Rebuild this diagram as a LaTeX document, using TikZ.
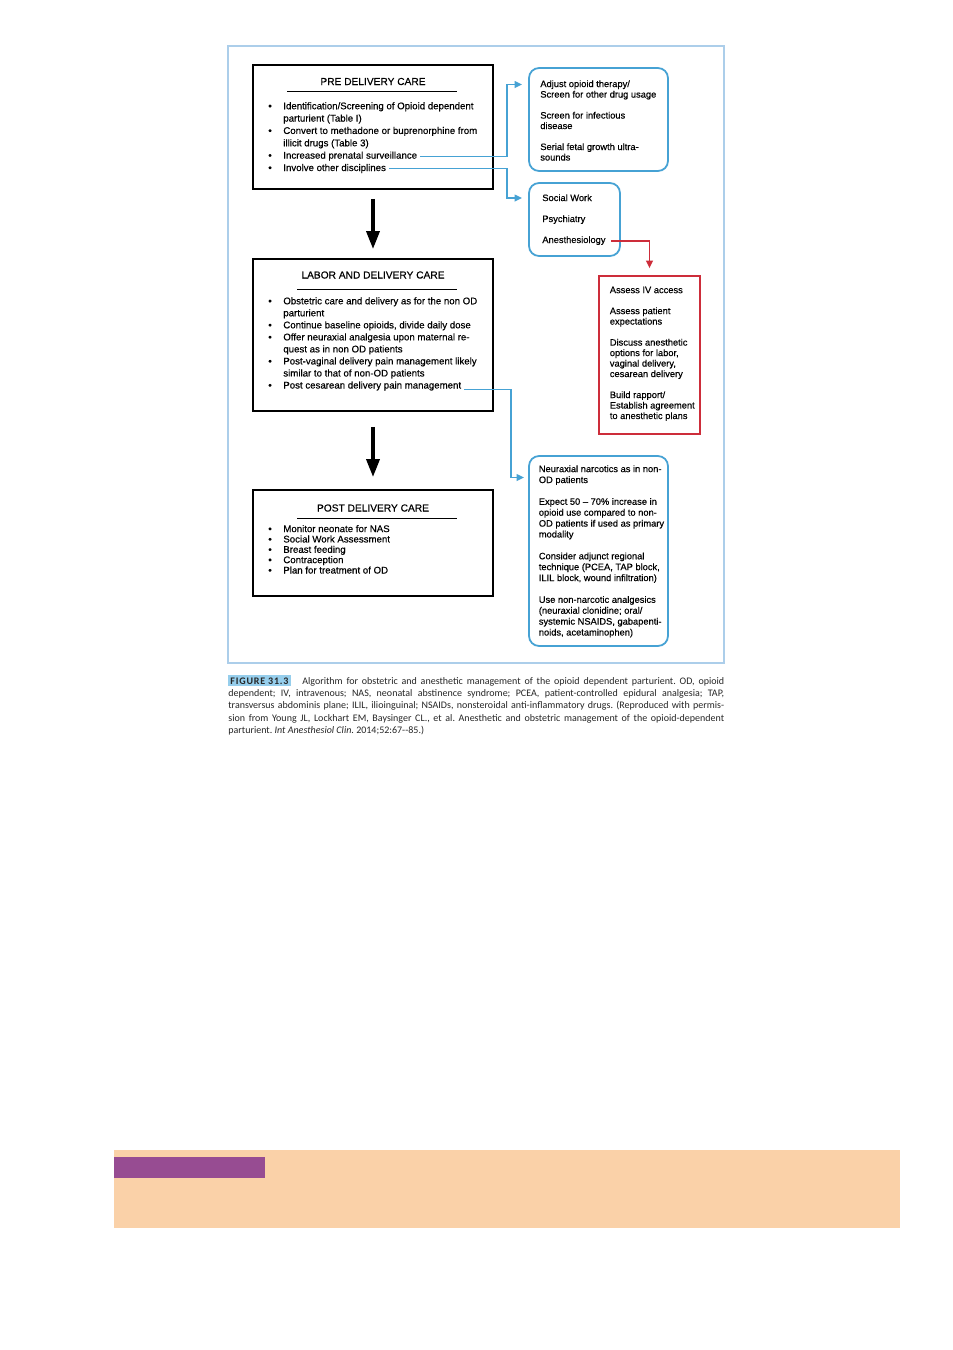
\documentclass[tikz,border=0pt]{standalone}
\usepackage{xcolor}
\usepackage{fontspec}
\setmainfont{Liberation Sans}[FakeBold=0.4]
\newfontfamily\capfont{Carlito}
\usepackage{tikz}
\usetikzlibrary{arrows.meta}

\definecolor{linkblue}{RGB}{70,162,212}
\definecolor{frameblue}{RGB}{172,206,234}
\definecolor{alertred}{RGB}{205,45,58}
\definecolor{tagblue}{RGB}{150,206,236}
\definecolor{peach}{RGB}{250,209,168}
\definecolor{plum}{RGB}{151,76,146}

\newcommand{\listbul}{\makebox[0.3cm][l]{\textbullet}}
\newcommand{\listind}{\hspace*{0.3cm}}

\begin{document}
\begin{tikzpicture}[x=0.02cm, y=-0.02cm,
    every node/.append style={text=black},
    carebox/.style={draw=black, line width=1.1pt, minimum width=4.8cm, inner sep=0},
    sidebox/.style={draw=linkblue, line width=1pt, rounded corners=0.2cm, inner sep=0},
    alertbox/.style={draw=alertred, line width=0.9pt, inner sep=0},
    boxtitle/.style={inner sep=0, font=\fontsize{5.8}{7}\selectfont},
    listtext/.style={anchor=base west, inner sep=0, align=left},
    sidetext/.style={anchor=base west, inner sep=0, align=left, font=\fontsize{5.3}{5.97}\selectfont},
    flow/.style={line width=2pt, -{Triangle[length=0.36cm, width=0.26cm]}},
    bluelink/.style={draw=linkblue, line width=1.1pt, -{Triangle[length=0.15cm, width=0.13cm]}},
    redlink/.style={draw=alertred, line width=1.1pt, -{Triangle[length=0.15cm, width=0.13cm]}}]
    % Page
    \fill[white] (0,0) rectangle (953,1350);
    \draw[frameblue, line width=0.6pt] (228,46) rectangle (724,663);
    % Care stages (list nodes sit on their last baseline)
    \node[carebox, minimum height=2.48cm] (pre) at (373,127) {};
    \node[carebox, minimum height=3.04cm] (labor) at (373,335) {};
    \node[carebox, minimum height=2.12cm] (post) at (373,543) {};
    \node[boxtitle] (pretitle) at (373,81.5) {PRE DELIVERY CARE};
    \node[boxtitle] (labortitle) at (373,275) {LABOR AND DELIVERY CARE};
    \node[boxtitle] (posttitle) at (373,508) {POST DELIVERY CARE};
    \draw[thin] (287,91.5) -- (457,91.5);
    \draw[thin] (297,289) -- (457,289);
    \draw[thin] (297,518) -- (457,518);
    \node[listtext, font=\fontsize{5.5}{7.03}\selectfont] (prelist) at (268,171) {%
        \listbul Identification/Screening of Opioid dependent\\
        \listind parturient (Table I)\\
        \listbul Convert to methadone or buprenorphine from\\
        \listind illicit drugs (Table 3)\\
        \listbul Increased prenatal surveillance\\
        \listbul Involve other disciplines};
    \node[listtext, font=\fontsize{5.5}{6.85}\selectfont] (laborlist) at (268,388.5) {%
        \listbul Obstetric care and delivery as for the non OD\\
        \listind parturient\\
        \listbul Continue baseline opioids, divide daily dose\\
        \listbul Offer neuraxial analgesia upon maternal re-\\
        \listind quest as in non OD patients\\
        \listbul Post-vaginal delivery pain management likely\\
        \listind similar to that of non-OD patients\\
        \listbul Post cesarean delivery pain management};
    \node[listtext, font=\fontsize{5.5}{5.89}\selectfont] (postlist) at (268,573.5) {%
        \listbul Monitor neonate for NAS\\
        \listbul Social Work Assessment\\
        \listbul Breast feeding\\
        \listbul Contraception\\
        \listbul Plan for treatment of OD};
    \draw[flow, shorten <=0.18cm, shorten >=0.18cm] (pre) -- (labor);
    \draw[flow, shorten <=0.3cm, shorten >=0.24cm] (labor) -- (post);
    % Side boxes
    \node[sidebox, minimum width=2.78cm, minimum height=2.06cm] (adjust) at (598.5,119.5) {};
    \node[sidetext] (adjusttext) at (540,160.5) {Adjust opioid therapy/\\Screen for other drug usage\\[5.97pt]
        Screen for infectious\\disease\\[5.97pt]Serial fetal growth ultra-\\sounds};
    \node[sidebox, minimum width=1.82cm, minimum height=1.46cm] (disc) at (574.5,219.5) {};
    \node[sidetext] (disctext) at (542,243) {Social Work\\[5.97pt]Psychiatry\\[5.97pt]Anesthesiology};
    \node[alertbox, minimum width=2.02cm, minimum height=3.16cm] (anes) at (649.5,355) {};
    \node[sidetext] (anestext) at (609.5,419) {Assess IV access\\[5.97pt]
        Assess patient\\expectations\\[5.97pt]
        Discuss anesthetic\\options for labor,\\vaginal delivery,\\cesarean delivery\\[5.97pt]
        Build rapport/\\Establish agreement\\to anesthetic plans};
    \node[sidebox, minimum width=2.78cm, minimum height=3.8cm] (pain) at (598.5,551) {};
    \node[sidetext, font=\fontsize{5.3}{6.2}\selectfont] (paintext) at (538.5,635.5) {%
        Neuraxial narcotics as in non-\\OD patients\\[6.2pt]
        Expect 50 -- 70\% increase in\\opioid use compared to non-\\OD patients if used as primary\\modality\\[6.2pt]
        Consider adjunct regional\\technique (PCEA, TAP block,\\ILIL block, wound infiltration)\\[6.2pt]
        Use non-narcotic analgesics\\(neuraxial clonidine; oral/\\systemic NSAIDS, gabapenti-\\noids, acetaminophen)};
    % Connectors
    \coordinate (surv) at (420,156.5);
    \coordinate (invol) at (389,168.5);
    \coordinate (cesar) at (464,389.5);
    \coordinate (anesth) at (611,241);
    \draw[bluelink, shorten >=0.12cm] (surv) -| (507,84.5) -- (adjust.west |- 507,84.5);
    \draw[bluelink, shorten >=0.12cm] (invol) -| (507,198) -- (disc.west |- 507,198);
    \draw[bluelink, shorten >=0.08cm] (cesar) -| (511,477.5) -- (pain.west |- 511,477.5);
    \draw[redlink, shorten >=0.14cm] (anesth) -| (anes.north);
    % Caption
    \node[anchor=base west, inner sep=0, text width=9.92cm, align=justify,
        font=\capfont\fontsize{5.7}{7.1}\selectfont\frenchspacing, text=black!85] (caption) at (228,684) {%
        {\setlength{\fboxsep}{1.2pt}\colorbox{tagblue}{\addfontfeatures{LetterSpace=8}\textbf{FIGURE 31.3}}}\hspace{4pt} Algorithm for obstetric and anesthetic management of the opioid dependent parturient. OD, opioid\linebreak
        dependent; IV, intravenous; NAS, neonatal abstinence syndrome; PCEA, patient-controlled epidural analgesia; TAP,\linebreak
        transversus abdominis plane; ILIL, ilioinguinal; NSAIDs, nonsteroidal anti-inflammatory drugs. (Reproduced with permis-\linebreak
        sion from Young JL, Lockhart EM, Baysinger CL., et al. Anesthetic and obstetric management of the opioid-dependent\linebreak
        parturient. \textit{Int Anesthesiol Clin}. 2014;52:67--85.)};
    % Bottom band
    \fill[peach] (114,1150) rectangle (900,1228);
    \fill[plum] (114,1157) rectangle (265,1178);
\end{tikzpicture}
\end{document}
